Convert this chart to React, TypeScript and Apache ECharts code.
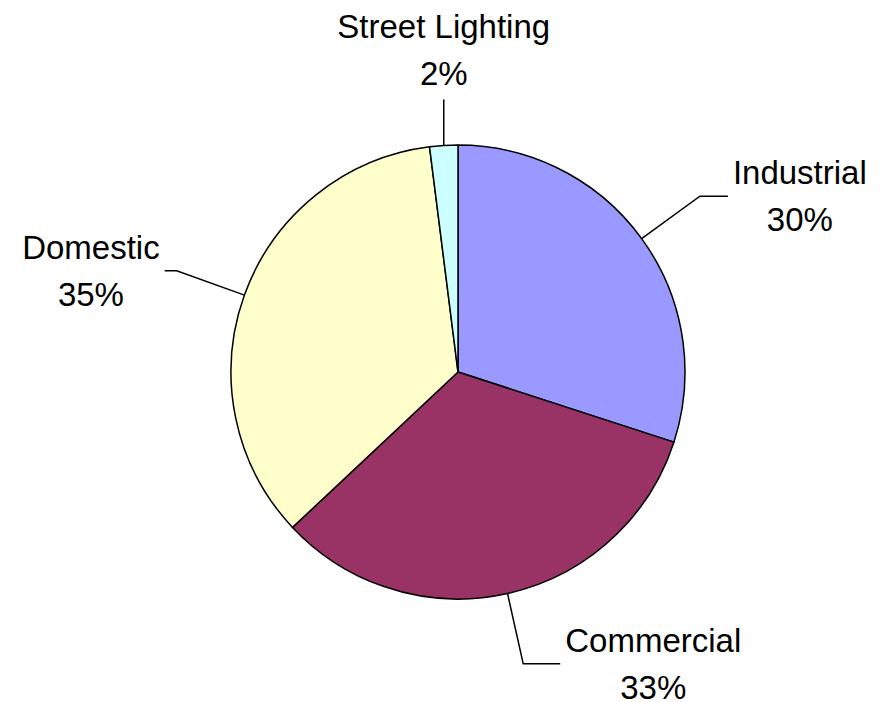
import React, { useEffect, useRef } from "react";
import * as echarts from "echarts";

const categories = ["Industrial", "Commercial", "Domestic", "Street Lighting"];
const values = [30, 33, 35, 2];
const colors = ["#9999FF", "#993366", "#FFFFCC", "#CCFFFF"];
// horizontal leader segment length per slice (style only)
const leaderTail = [28, 37, 12, 0];

export default function App() {
  const ref = useRef<HTMLDivElement>(null);
  useEffect(() => {
    if (!ref.current) return;
    const chart = echarts.init(ref.current, undefined, { renderer: "svg" });
    const data = categories.map((name, i) => ({
      name,
      value: values[i],
      itemStyle: { color: colors[i] },
      labelLine: { length2: leaderTail[i] },
    }));
    chart.setOption({
      animation: false,
      backgroundColor: "#ffffff",
      series: [
        {
          type: "pie",
          center: [458, 372],
          radius: 227,
          startAngle: 90,
          clockwise: true,
          avoidLabelOverlap: false,
          data,
          itemStyle: { borderColor: "#000", borderWidth: 1.5 },
          emphasis: { disabled: true },
          label: {
            show: true,
            position: "outside",
            formatter: "{b}\n{d}%",
            fontFamily: "'Liberation Sans', Arial, sans-serif",
            fontSize: 33,
            lineHeight: 47,
            color: "#000",
          },
          labelLine: {
            show: true,
            length: 72,
            length2: 10,
            lineStyle: { color: "#000", width: 1.5 },
          },
          labelLayout: (p: any) => {
            const pts = p.labelLinePoints;
            if (!pts) return {};
            if (p.dataIndex === 3) {
              const s = pts[0];
              return {
                x: s[0],
                y: s[1] - 48,
                align: "center",
                verticalAlign: "bottom",
                labelLinePoints: [s, [s[0], s[1] - 46], [s[0], s[1] - 46]],
              };
            }
            const r = p.labelRect;
            return {
              x: r.x + r.width / 2,
              y: r.y + r.height / 2,
              align: "center",
              verticalAlign: "middle",
              labelLinePoints: pts,
            };
          },
        },
      ],
    });
    return () => chart.dispose();
  }, []);
  return (
    <div
      ref={ref}
      style={{ position: "fixed", left: 0, top: 0, width: 888, height: 702 }}
    />
  );
}
